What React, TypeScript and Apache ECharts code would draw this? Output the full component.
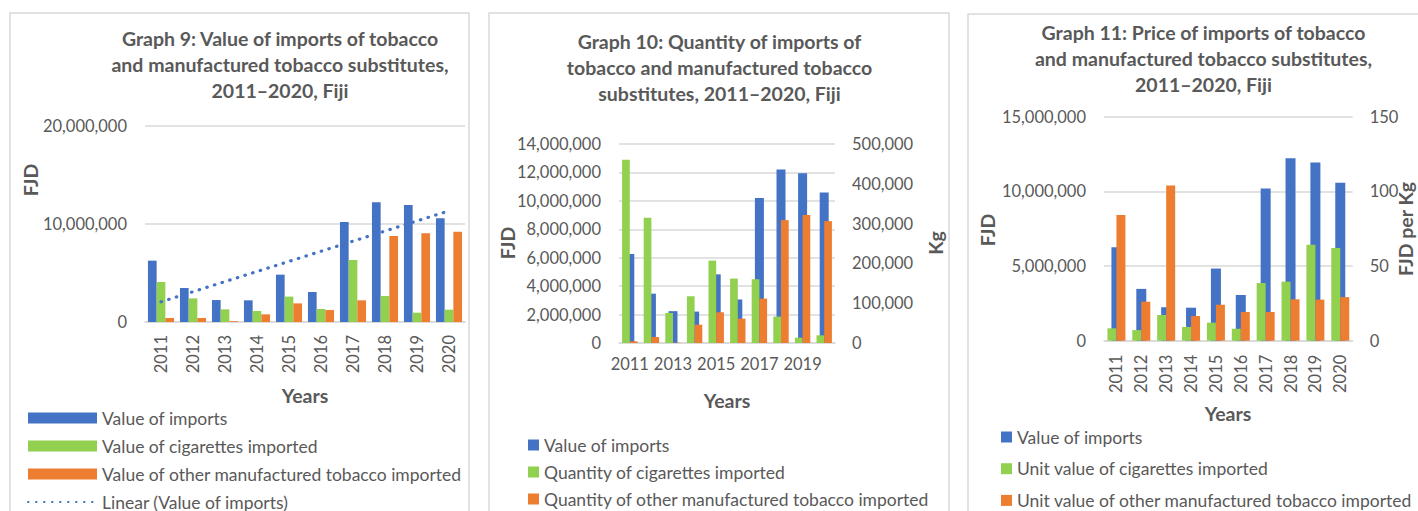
import React, { useEffect, useRef } from "react";
import * as echarts from "echarts";

const years = ["2011", "2012", "2013", "2014", "2015", "2016", "2017", "2018", "2019", "2020"];
const valueOfImports = [6260000, 3470000, 2240000, 2210000, 4830000, 3060000, 10200000, 12210000, 11940000, 10580000];
const valueCigarettes = [4080000, 2410000, 1290000, 1120000, 2590000, 1330000, 6330000, 2650000, 950000, 1260000];
const valueOther = [410000, 410000, 80000, 780000, 1900000, 1220000, 2210000, 8780000, 9050000, 9220000];
const qtyCigarettes = [460600, 314600, 75500, 117400, 207200, 161900, 160200, 66300, 13400, 19300];
const qtyOther = [4200, 15100, 800, 46100, 77200, 61200, 111600, 308700, 321300, 306200];
const unitCigarettes = [8.3, 7.1, 17.2, 9.2, 12.1, 8.0, 38.6, 39.5, 64.3, 62.1];
const unitOther = [84.2, 26.1, 104.0, 16.5, 24.1, 19.2, 19.2, 27.7, 27.5, 29.2];

const titles = [
  "Graph 9: Value of imports of tobacco\nand manufactured tobacco substitutes,\n2011\u20132020, Fiji",
  "Graph 10: Quantity of imports of\ntobacco and manufactured tobacco\nsubstitutes, 2011\u20132020, Fiji",
  "Graph 11: Price of imports of tobacco\nand manufactured tobacco substitutes,\n2011\u20132020, Fiji",
];

const S_IMPORTS = "Value of imports";
const S_VCIG = "Value of cigarettes imported";
const S_VOTH = "Value of other manufactured tobacco imported";
const S_TREND = "Linear (Value of imports)";
const S_QCIG = "Quantity of cigarettes imported";
const S_QOTH = "Quantity of other manufactured tobacco imported";
const S_UCIG = "Unit value of cigarettes imported";
const S_UOTH = "Unit value of other manufactured tobacco imported";

const BLUE = "#4472c4";
const GREEN = "#92d050";
const ORANGE = "#ed7d31";
const TXT = "#595959";
const GRID = "#d9d9d9";
const FONT = "Lato, 'Open Sans', sans-serif";

function linearTrend(vals: number[]): number[] {
  const n = vals.length;
  const xs = vals.map((_, i) => i + 1);
  const mx = xs.reduce((a, b) => a + b, 0) / n;
  const my = vals.reduce((a, b) => a + b, 0) / n;
  let sxy = 0;
  let sxx = 0;
  for (let i = 0; i < n; i++) {
    sxy += (xs[i] - mx) * (vals[i] - my);
    sxx += (xs[i] - mx) * (xs[i] - mx);
  }
  const b = sxy / sxx;
  const a = my - b * mx;
  return xs.map((x) => a + b * x);
}

const fmt = (v: number) => v.toLocaleString("en-US");

export default function App() {
  const ref = useRef<HTMLDivElement>(null);
  useEffect(() => {
    if (!ref.current) return;
    const chart = echarts.init(ref.current, undefined, { renderer: "svg" });
    const axisLabel = { color: TXT, fontSize: 16.5, fontFamily: FONT };
    const catAxis = (grid: number, extra: any = {}) => ({
      type: "category",
      gridIndex: grid,
      data: years,
      axisTick: { show: false },
      axisLine: { lineStyle: { color: GRID, width: 1.5 } },
      axisLabel: { ...axisLabel },
      ...extra,
    });
    const hiddenCat = (grid: number) => ({
      type: "category",
      gridIndex: grid,
      data: years,
      show: false,
    });
    const valAxis = (grid: number, max: number, interval: number, extra: any = {}) => ({
      type: "value",
      gridIndex: grid,
      min: 0,
      max,
      interval,
      axisLine: { show: false },
      axisTick: { show: false },
      splitLine: { lineStyle: { color: GRID, width: 1.5 } },
      axisLabel: { ...axisLabel, formatter: fmt, margin: 18 },
      ...extra,
    });
    const axisTitle = (text: string, x: number, y: number, rot = 0) => ({
      type: "text",
      x,
      y,
      rotation: rot,
      style: {
        text,
        align: "center",
        verticalAlign: "middle",
        fill: TXT,
        fontSize: 19.5,
        fontWeight: "bold",
        fontFamily: FONT,
      },
    });
    const titleText = (text: string, x: number, y: number) => ({
      type: "text",
      x,
      y,
      style: {
        text,
        align: "center",
        verticalAlign: "middle",
        fill: TXT,
        fontSize: 19.5,
        fontWeight: "bold",
        fontFamily: FONT,
        lineHeight: 26,
      },
    });
    const border = (x: number, y: number, w: number) => ({
      type: "rect",
      shape: { x, y, width: w, height: 600 },
      style: { fill: "none", stroke: GRID, lineWidth: 1.5 },
      silent: true,
    });
    const legendBase = {
      orient: "vertical",
      padding: 0,
      height: 160,
      textStyle: { color: TXT, fontSize: 17.5, fontFamily: FONT, lineHeight: 20 },
      selectedMode: false,
    };

    const option: any = {
      animation: false,
      backgroundColor: "#ffffff",
      grid: [
        { left: 145, top: 126, width: 320, height: 196 },
        { left: 619, top: 144, width: 216, height: 199 },
        { left: 1104, top: 116.7, width: 248.7, height: 224 },
      ],
      xAxis: [
        catAxis(0, { axisLabel: { ...axisLabel, rotate: 90, margin: 13 } }),
        catAxis(1, { axisLabel: { ...axisLabel, interval: 1, margin: 12 } }),
        hiddenCat(1),
        catAxis(2, { axisLabel: { ...axisLabel, rotate: 90, margin: 14 } }),
        hiddenCat(2),
      ],
      yAxis: [
        valAxis(0, 20000000, 10000000),
        valAxis(1, 14000000, 2000000),
        valAxis(1, 500000, 100000, {
          position: "right",
          splitLine: { show: false },
          axisLabel: { ...axisLabel, formatter: fmt, margin: 17 },
        }),
        valAxis(2, 15000000, 5000000),
        valAxis(2, 150, 50, {
          position: "right",
          splitLine: { show: false },
          axisLabel: { ...axisLabel, formatter: fmt, margin: 17 },
        }),
      ],
      legend: [
        {
          ...legendBase,
          left: 27,
          top: 408,
          itemWidth: 69,
          itemHeight: 11,
          itemGap: 8,
          data: [
            { name: S_IMPORTS, icon: "rect" },
            { name: S_VCIG, icon: "rect" },
            { name: S_VOTH, icon: "rect" },
            { name: S_TREND, itemStyle: { opacity: 0 } },
          ],
        },
        {
          ...legendBase,
          left: 528,
          top: 435,
          itemWidth: 11,
          itemHeight: 11,
          itemGap: 7,
          icon: "rect",
          data: [S_IMPORTS, S_QCIG, S_QOTH],
        },
        {
          ...legendBase,
          left: 1001,
          top: 427,
          itemWidth: 11,
          itemHeight: 11,
          itemGap: 11.7,
          icon: "rect",
          data: [S_IMPORTS, S_UCIG, S_UOTH],
        },
      ],
      series: [
        { name: S_IMPORTS, type: "bar", xAxisIndex: 0, yAxisIndex: 0, data: valueOfImports, barWidth: 8.7, barGap: "0%", itemStyle: { color: BLUE } },
        { name: S_VCIG, type: "bar", xAxisIndex: 0, yAxisIndex: 0, data: valueCigarettes, barWidth: 8.7, barGap: "0%", itemStyle: { color: GREEN } },
        { name: S_VOTH, type: "bar", xAxisIndex: 0, yAxisIndex: 0, data: valueOther, barWidth: 8.7, barGap: "0%", itemStyle: { color: ORANGE } },
        {
          name: S_TREND,
          type: "line",
          xAxisIndex: 0,
          yAxisIndex: 0,
          data: linearTrend(valueOfImports),
          symbol: "none",
          z: 5,
          itemStyle: { color: BLUE },
          lineStyle: { color: BLUE, width: 3.2, type: [0.5, 7.5], cap: "round" },
        },
        { name: S_IMPORTS, type: "bar", xAxisIndex: 1, yAxisIndex: 1, data: valueOfImports, barWidth: 9, z: 2, itemStyle: { color: BLUE } },
        { name: S_QCIG, type: "bar", xAxisIndex: 2, yAxisIndex: 2, data: qtyCigarettes, barWidth: 7.7, barGap: "0%", z: 3, itemStyle: { color: GREEN } },
        { name: S_QOTH, type: "bar", xAxisIndex: 2, yAxisIndex: 2, data: qtyOther, barWidth: 7.7, barGap: "0%", z: 3, itemStyle: { color: ORANGE } },
        { name: S_IMPORTS, type: "bar", xAxisIndex: 3, yAxisIndex: 3, data: valueOfImports, barWidth: 10, z: 2, itemStyle: { color: BLUE } },
        { name: S_UCIG, type: "bar", xAxisIndex: 4, yAxisIndex: 4, data: unitCigarettes, barWidth: 9, barGap: "0%", z: 3, itemStyle: { color: GREEN } },
        { name: S_UOTH, type: "bar", xAxisIndex: 4, yAxisIndex: 4, data: unitOther, barWidth: 9, barGap: "0%", z: 3, itemStyle: { color: ORANGE } },
      ],
      graphic: [
        border(10, 13, 459),
        border(489, 13, 460),
        border(968, 14, 470),
        titleText(titles[0], 280, 64.3),
        titleText(titles[1], 719.5, 67.7),
        titleText(titles[2], 1203.5, 58.3),
        axisTitle("Years", 305, 395),
        axisTitle("FJD", 30, 180, Math.PI / 2),
        axisTitle("Years", 727, 400),
        axisTitle("FJD", 507, 243, Math.PI / 2),
        axisTitle("Kg", 935, 243, Math.PI / 2),
        axisTitle("Years", 1228, 413),
        axisTitle("FJD", 987, 230, Math.PI / 2),
        axisTitle("FJD per Kg", 1405, 229, Math.PI / 2),
      ],
    };
    chart.setOption(option);
    return () => chart.dispose();
  }, []);
  return (
    <div
      ref={ref}
      style={{ position: "absolute", left: 0, top: 0, width: 1418, height: 511, background: "#fff" }}
    />
  );
}
